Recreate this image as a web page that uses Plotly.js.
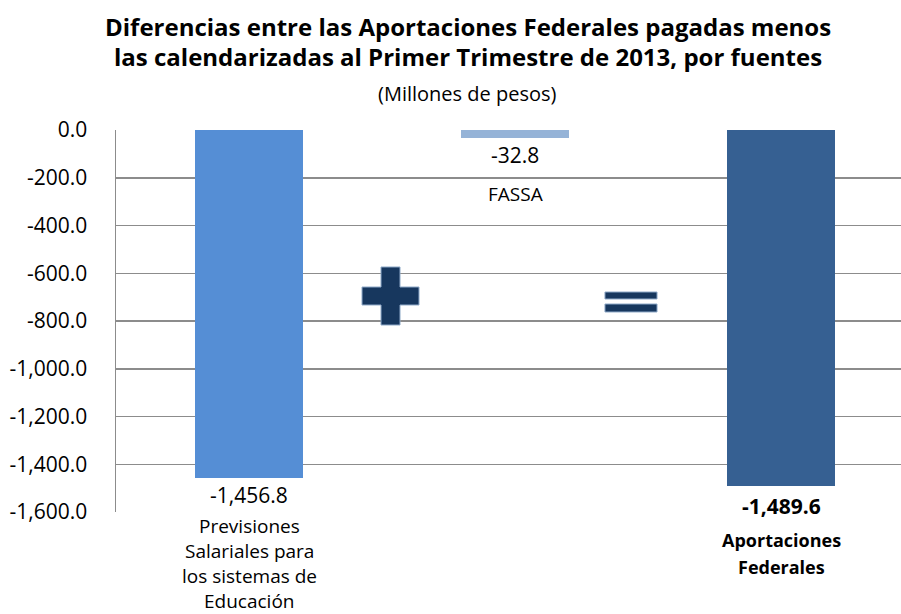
<!DOCTYPE html>
<html>
<head>
<meta charset="utf-8">
<script src="https://cdn.plot.ly/plotly-3.0.1.min.js"></script>
<style>
  html, body { margin: 0; padding: 0; background: #ffffff; }
  #chart { width: 901px; height: 614px; }
</style>
</head>
<body>
<div id="chart"></div>
<script>
// ---- data ----
var categories = ["Previsiones Salariales para los sistemas de Educación", "FASSA", "Aportaciones Federales"];
var categoryLabelLines = [["Previsiones", "Salariales para", "los sistemas de", "Educación"], ["FASSA"], ["Aportaciones", "Federales"]];
var values = [-1456.8, -32.8, -1489.6];
var barColors = ["#558ED5", "#95B3D7", "#366092"];
var tickValues = [0, -200, -400, -600, -800, -1000, -1200, -1400, -1600];
var tickLabels = ["0.0", "-200.0", "-400.0", "-600.0", "-800.0", "-1,000.0", "-1,200.0", "-1,400.0", "-1,600.0"];
var titleLine1 = "Diferencias entre las Aportaciones Federales pagadas menos";
var titleLine2 = "las calendarizadas al Primer Trimestre de 2013, por fuentes";
var subtitle = "(Millones de pesos)";

function fmt(v) {
  return v.toLocaleString("en-US", {minimumFractionDigits: 1, maximumFractionDigits: 1});
}

var FONT = "Open Sans, Noto Sans, sans-serif";
var GRID = "#8C8C8C";

var trace = {
  type: "bar",
  x: categories,
  y: values,
  width: 0.406,
  marker: {color: barColors, line: {width: 0}},
  hoverinfo: "x+y"
};

var annotations = [];
// title lines
var titleX = 0.4484;
annotations.push({xref: "paper", yref: "paper", x: titleX, y: 1.272, xanchor: "center", yanchor: "middle",
  text: "<b>" + titleLine1 + "</b>", showarrow: false, font: {family: FONT, size: 24, color: "#000"}});
annotations.push({xref: "paper", yref: "paper", x: titleX, y: 1.192, xanchor: "center", yanchor: "middle",
  text: "<b>" + titleLine2 + "</b>", showarrow: false, font: {family: FONT, size: 24, color: "#000"}});
annotations.push({xref: "paper", yref: "paper", x: titleX, y: 1.095, xanchor: "center", yanchor: "middle",
  text: subtitle, showarrow: false, font: {family: FONT, size: 20, color: "#000"}});

// value labels
for (var i = 0; i < values.length; i++) {
  var bold = (i === values.length - 1);
  annotations.push({x: categories[i], y: values[i], xref: "x", yref: "y", xanchor: "center", yanchor: "middle",
    yshift: bold ? -20 : -17, showarrow: false,
    text: bold ? "<b>" + fmt(values[i]) + "</b>" : fmt(values[i]),
    font: {family: FONT, size: 21, color: "#000"}});
}
// category labels, one annotation per line
function addLines(ci, startY, step, size, bold) {
  var lines = categoryLabelLines[ci];
  for (var k = 0; k < lines.length; k++) {
    annotations.push({x: categories[ci], y: 0, xref: "x", yref: "paper", xanchor: "center", yanchor: "middle",
      yshift: -(startY + k * step), showarrow: false,
      text: bold ? "<b>" + lines[k] + "</b>" : lines[k],
      font: {family: FONT, size: size, color: "#000"}});
  }
}
addLines(0, 14, 25, 19, false);
addLines(2, 28, 27, 18, true);
annotations.push({x: categories[1], y: values[1], xref: "x", yref: "y", xanchor: "center", yanchor: "middle",
  yshift: -56, showarrow: false, text: categoryLabelLines[1][0],
  font: {family: FONT, size: 19, color: "#000"}});

// plus and equals symbols (decorative)
var SYM = "#17375E", SYMLINE = "#8EA9C8";
var shapes = [
  {type: "path", xref: "paper", yref: "paper",
   path: "M 0.3376,0.6414 L 0.3618,0.6414 L 0.3618,0.5890 L 0.3860,0.5890 L 0.3860,0.5419 L 0.3618,0.5419 L 0.3618,0.4895 L 0.3376,0.4895 L 0.3376,0.5419 L 0.3134,0.5419 L 0.3134,0.5890 L 0.3376,0.5890 Z",
   fillcolor: SYM, line: {color: SYMLINE, width: 1}},
  {type: "rect", xref: "paper", yref: "paper", x0: 0.6229, x1: 0.6892, y0: 0.5576, y1: 0.5759,
   fillcolor: SYM, line: {color: SYMLINE, width: 1}},
  {type: "rect", xref: "paper", yref: "paper", x0: 0.6229, x1: 0.6892, y0: 0.5236, y1: 0.5445,
   fillcolor: SYM, line: {color: SYMLINE, width: 1}}
];

var layout = {
  width: 901, height: 614,
  margin: {l: 116, r: 0, t: 130, b: 102, pad: 0},
  paper_bgcolor: "#ffffff", plot_bgcolor: "#ffffff",
  showlegend: false,
  xaxis: {
    type: "category", range: [-0.5, 2.451], showticklabels: false, ticks: "",
    showgrid: false, zeroline: false, showline: false, fixedrange: true
  },
  yaxis: {
    range: [-1600, 0], tickvals: tickValues, ticktext: tickLabels,
    showgrid: true, gridcolor: GRID, gridwidth: 1.5,
    zeroline: false, showline: true, linecolor: GRID, linewidth: 1.5,
    ticks: "", ticklabelstandoff: 23,
    tickfont: {family: FONT, size: 21, color: "#000"}, fixedrange: true
  },
  annotations: annotations,
  shapes: shapes,
  bargap: 0
};

Plotly.newPlot("chart", [trace], layout, {displayModeBar: false, staticPlot: true});
</script>
</body>
</html>
